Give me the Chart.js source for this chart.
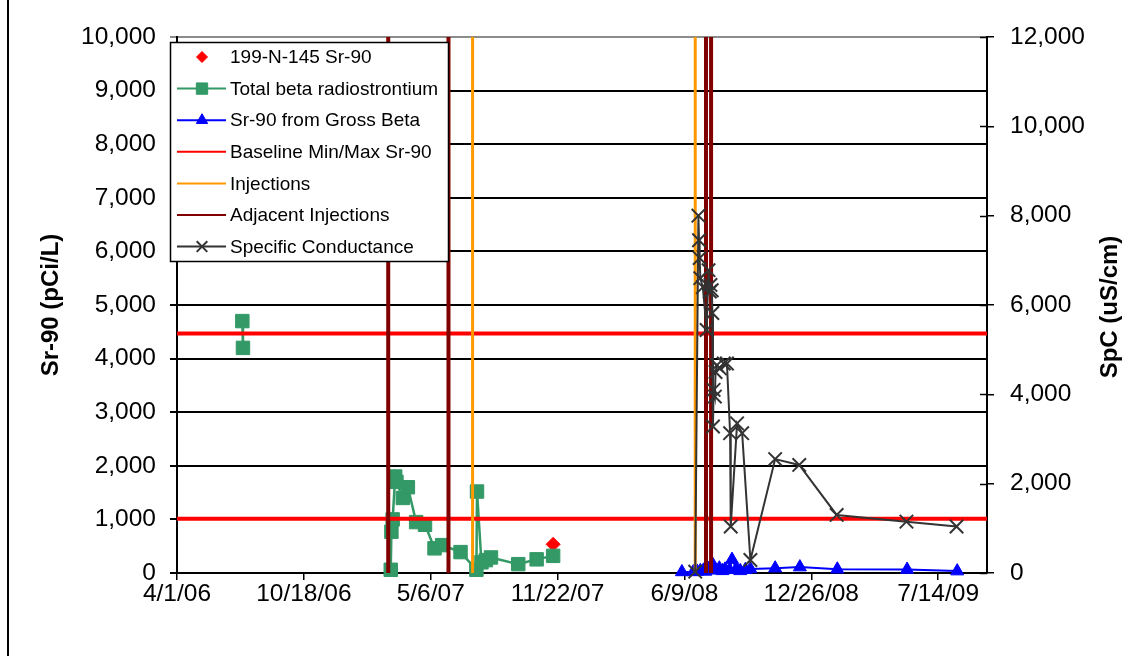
<!DOCTYPE html>
<html>
<head>
<meta charset="utf-8">
<script src="https://cdn.jsdelivr.net/npm/chart.js@4.4.0/dist/chart.umd.min.js"></script>
<style>
  html, body { margin: 0; padding: 0; background: #fff; }
</style>
</head>
<body>
<canvas id="chart" width="1142" height="656"></canvas>
<script>
// sample dates are M/D/YY, x axis runs in days from 4/1/06
const xTickDates = ['4/1/06', '10/18/06', '5/6/07', '11/22/07', '6/9/08', '12/26/08', '7/14/09'];

const sampleDates = ['11/15/07'];
const sampleValues = [535];

const betaDates = ['7/13/06', '7/14/06', '1/1/07', '3/4/07', '3/5/07', '3/7/07', '3/11/07', '3/13/07',
  '3/23/07', '3/31/07', '4/13/07', '4/27/07', '5/12/07', '5/24/07', '6/22/07', '7/17/07', '7/18/07',
  '7/25/07', '8/1/07', '8/9/07', '9/21/07', '10/20/07', '11/15/07'];
const betaValues = [4700, 4200, null, 60, 770, 1000, 1800, 1700,
  1400, 1600, 950, 900, 460, 520, 390, 60, 1520,
  200, 240, 290, 165, 255, 320];

const grossDates = ['6/5/08', '6/23/08', '6/29/08', '7/4/08', '7/9/08', '7/12/08', '7/17/08', '7/20/08',
  '7/24/08', '7/29/08', '8/3/08', '8/8/08', '8/12/08', '8/19/08', '8/23/08', '8/30/08', '9/5/08',
  '9/13/08', '9/21/08', '10/30/08', '12/8/08', '2/5/09', '5/26/09', '8/13/09'];
const grossValues = [20, 20, 30, 40, 50, 30, 80, 60,
  150, 50, 90, 40, 70, 60, 250, 80, 40,
  60, 75, 90, 110, 70, 65, 35];

const baselineValues = [1010, 4470];
const injectionDates = ['7/11/07', '6/26/08'];
const adjacentDates = ['2/28/07', '6/3/07', '7/13/08', '7/21/08'];

const spcDates = ['6/26/08', '7/1/08', '7/2/08', '7/3/08', '7/4/08', '7/8/08', '7/14/08', '7/17/08',
  '7/19/08', '7/20/08', '7/22/08', '7/23/08', '7/24/08', '7/25/08', '7/27/08', '7/28/08', '7/30/08',
  '8/4/08', '8/10/08', '8/15/08', '8/20/08', '8/21/08', '8/31/08', '9/8/08', '9/21/08', '10/30/08',
  '12/7/08', '2/4/09', '5/25/09', '8/12/09'];
const spcValues = [30, 8000, 7450, 7050, 6600, 6400, 5440, 6780,
  6300, 6450, 6330, 5820, 3280, 4100, 3950, 4500, 4650,
  4580, 4690, 4690, 3130, 1040, 3350, 3130, 290, 2550,
  2420, 1300, 1150, 1040];

const X_MAX = 1277;
const SR_MAX = 10000;
const FONT = '"Liberation Sans", Arial, sans-serif';

const origin = Date.UTC(2006, 3, 1);
const toDay = (s) => {
  const [m, d, y] = s.split('/').map(Number);
  return Math.round((Date.UTC(2000 + y, m - 1, d) - origin) / 86400000);
};
const toLabel = (v) => {
  const dt = new Date(origin + v * 86400000);
  return (dt.getUTCMonth() + 1) + '/' + dt.getUTCDate() + '/' + String(dt.getUTCFullYear()).slice(2);
};
const pts = (dates, values) => dates.map((d, i) => ({ x: toDay(d), y: values[i] }));
const verticals = (dates) => {
  const out = [];
  dates.forEach(d => {
    const x = toDay(d);
    out.push({ x: x, y: 0 }, { x: x, y: SR_MAX }, { x: x, y: null });
  });
  return out;
};
const horizontals = (values) => {
  const out = [];
  values.forEach(v => out.push({ x: 0, y: v }, { x: X_MAX, y: v }, { x: X_MAX, y: null }));
  return out;
};

Chart.defaults.font.family = FONT;
Chart.defaults.color = '#000';

// legend inside the plot, right axis title and the inner half of right ticks
const overlay = {
  id: 'overlay',
  afterDraw(chart) {
    const ctx = chart.ctx;
    const area = chart.chartArea;
    const y2 = chart.scales.y2;
    ctx.save();

    // frame line on the left
    ctx.strokeStyle = '#000';
    ctx.lineWidth = 2;
    ctx.beginPath();
    ctx.moveTo(8, 0);
    ctx.lineTo(8, 656);
    ctx.stroke();

    ctx.lineWidth = 1.5;
    y2.ticks.forEach(t => {
      const y = Math.round(y2.getPixelForValue(t.value)) + 0.5;
      ctx.beginPath();
      ctx.moveTo(area.right - 7, y);
      ctx.lineTo(area.right, y);
      ctx.stroke();
    });

    ctx.save();
    ctx.font = 'bold 24px ' + FONT;
    ctx.fillStyle = '#000';
    ctx.textAlign = 'center';
    ctx.textBaseline = 'middle';
    ctx.translate(1110, (area.top + area.bottom) / 2 + 2);
    ctx.rotate(-Math.PI / 2);
    ctx.fillText('SpC (uS/cm)', 0, 0);
    ctx.restore();

    // legend
    const box = { left: 170.5, top: 42.5, width: 278, height: 219 };
    ctx.fillStyle = '#fff';
    ctx.fillRect(box.left, box.top, box.width, box.height);
    ctx.strokeStyle = '#000';
    ctx.lineWidth = 1.5;
    ctx.strokeRect(box.left, box.top, box.width, box.height);

    const legendRadius = { rectRot: 5.5, rect: 8, triangle: 6.5, crossRot: 7.5 };
    ctx.font = '19px ' + FONT;
    ctx.textAlign = 'left';
    ctx.textBaseline = 'middle';
    chart.data.datasets.forEach((ds, i) => {
      const y = 57 + i * 31.6;
      if (ds.showLine !== false) {
        ctx.strokeStyle = ds.borderColor;
        ctx.lineWidth = 2;
        ctx.beginPath();
        ctx.moveTo(177, y);
        ctx.lineTo(226, y);
        ctx.stroke();
      }
      if (ds.pointRadius > 0) {
        ctx.fillStyle = ds.pointBackgroundColor;
        ctx.strokeStyle = ds.pointBorderColor;
        ctx.lineWidth = ds.pointBorderWidth;
        Chart.helpers.drawPoint(ctx, {
          pointStyle: ds.pointStyle,
          radius: legendRadius[ds.pointStyle],
          rotation: 0,
          borderWidth: ds.pointBorderWidth
        }, 202, y);
      }
      ctx.fillStyle = '#000';
      ctx.fillText(ds.label, 230, y + 1);
    });
    ctx.restore();
  }
};

new Chart(document.getElementById('chart'), {
  type: 'line',
  data: {
    datasets: [{
      label: '199-N-145 Sr-90',
      data: pts(sampleDates, sampleValues),
      showLine: false,
      borderColor: '#ff0000',
      pointStyle: 'rectRot',
      pointRadius: 7,
      pointBackgroundColor: '#ff0000',
      pointBorderColor: '#ff0000',
      pointBorderWidth: 1,
      yAxisID: 'y',
      order: 6
    }, {
      label: 'Total beta radiostrontium',
      data: pts(betaDates, betaValues),
      borderColor: '#339966',
      borderWidth: 2.5,
      pointStyle: 'rect',
      pointRadius: 9.5,
      pointBackgroundColor: '#339966',
      pointBorderColor: '#339966',
      pointBorderWidth: 1,
      yAxisID: 'y',
      order: 5
    }, {
      label: 'Sr-90 from Gross Beta',
      data: pts(grossDates, grossValues),
      borderColor: '#0000ff',
      borderWidth: 2,
      pointStyle: 'triangle',
      pointRadius: 7.5,
      pointBackgroundColor: '#0000ff',
      pointBorderColor: '#0000ff',
      pointBorderWidth: 1,
      yAxisID: 'y',
      order: 4
    }, {
      label: 'Baseline Min/Max Sr-90',
      data: horizontals(baselineValues),
      borderColor: '#ff0000',
      borderWidth: 4,
      pointRadius: 0,
      yAxisID: 'y',
      order: 3
    }, {
      label: 'Injections',
      data: verticals(injectionDates),
      borderColor: '#ff9900',
      borderWidth: 3,
      pointRadius: 0,
      yAxisID: 'y',
      order: 2
    }, {
      label: 'Adjacent Injections',
      data: verticals(adjacentDates),
      borderColor: '#800000',
      borderWidth: 4,
      pointRadius: 0,
      yAxisID: 'y',
      order: 1
    }, {
      label: 'Specific Conductance',
      data: pts(spcDates, spcValues),
      borderColor: '#333333',
      borderWidth: 2,
      pointStyle: 'crossRot',
      pointRadius: 9.5,
      pointBackgroundColor: '#333333',
      pointBorderColor: '#333333',
      pointBorderWidth: 2,
      yAxisID: 'y2',
      order: 0
    }]
  },
  options: {
    responsive: false,
    animation: false,
    events: [],
    spanGaps: false,
    clip: false,
    layout: { padding: { top: 37, left: 0, right: 0, bottom: 0 } },
    plugins: {
      legend: { display: false },
      tooltip: { enabled: false }
    },
    elements: {
      line: { tension: 0, borderCapStyle: 'butt' }
    },
    scales: {
      x: {
        type: 'linear',
        min: 0,
        max: X_MAX,
        afterFit: (s) => { s.height = 83; },
        afterBuildTicks: (s) => { s.ticks = xTickDates.map(d => ({ value: toDay(d) })); },
        grid: { drawOnChartArea: false, tickLength: 7, color: '#000', lineWidth: 1.5 },
        border: { color: '#000', width: 2 },
        ticks: {
          autoSkip: false,
          maxRotation: 0,
          padding: 0,
          font: { size: 24.5 },
          callback: (v) => toLabel(v)
        }
      },
      y: {
        position: 'left',
        min: 0,
        max: SR_MAX,
        afterFit: (s) => { s.width = 177; },
        grid: {
          tickLength: 7,
          lineWidth: 2,
          color: (c) => (c.tick && c.tick.value === SR_MAX ? '#8c8c8c' : '#000')
        },
        border: { color: '#000', width: 2 },
        ticks: {
          stepSize: 1000,
          padding: 14,
          font: { size: 24.5 },
          callback: (v) => v.toLocaleString('en-US')
        },
        title: {
          display: true,
          text: 'Sr-90 (pCi/L)',
          font: { size: 24, weight: 'bold' },
          padding: { top: 37, bottom: 0 }
        }
      },
      y2: {
        position: 'right',
        min: 0,
        max: 12000,
        afterFit: (s) => { s.width = 155; },
        grid: { drawOnChartArea: false, tickLength: 7, color: '#000', lineWidth: 1.5 },
        border: { color: '#000', width: 2 },
        ticks: {
          stepSize: 2000,
          padding: 16,
          font: { size: 24.5 },
          callback: (v) => v.toLocaleString('en-US')
        }
      }
    }
  },
  plugins: [overlay]
});
</script>
</body>
</html>
